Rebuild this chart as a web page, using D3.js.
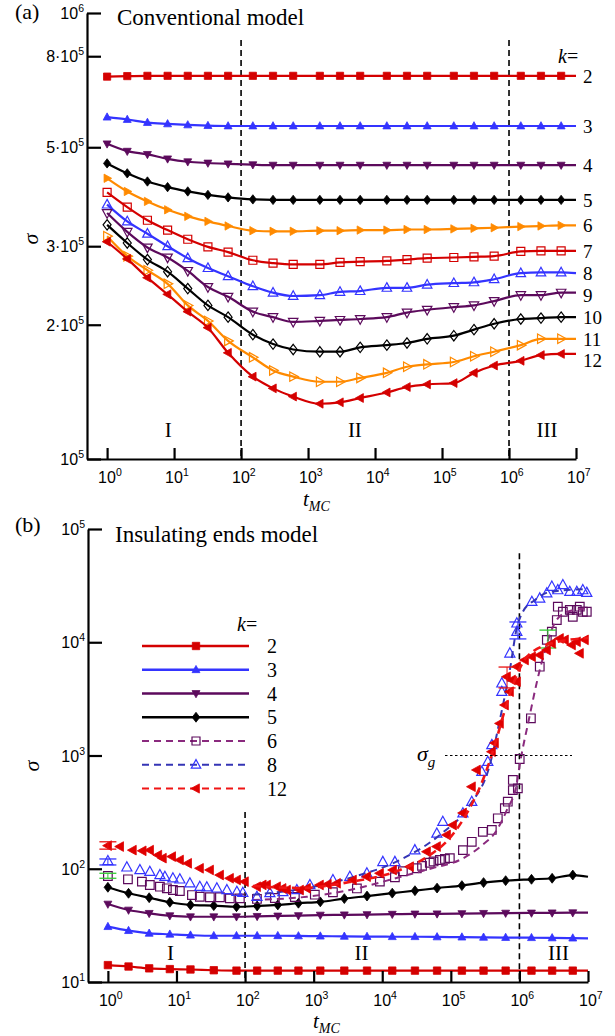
<!DOCTYPE html>
<html><head><meta charset="utf-8">
<script src="https://cdn.jsdelivr.net/npm/d3@7"></script>
<style>
html,body{margin:0;padding:0;background:#fff;}
svg{display:block;}
</style></head><body>
<svg id="chart" width="615" height="1036"></svg>
<script>
// ---------- data: panel (a), conventional model ----------
const tTop = [1,2,4,8,16,32,64,150,300,600,1.5e3,3e3,6e3,1.5e4,3e4,6e4,1.5e5,3e5,6e5,1.5e6,3e6,6e6,1e7];
const topUnit = 1e5; // sigma values below are in units of 1e5
const top2  = [7.20,7.22,7.23,7.23,7.23,7.23,7.23,7.23,7.23,7.23,7.23,7.23,7.23,7.23,7.23,7.23,7.23,7.23,7.23,7.23,7.23,7.23,7.23];
const top3  = [5.84,5.77,5.68,5.64,5.61,5.59,5.58,5.58,5.58,5.58,5.58,5.58,5.58,5.58,5.58,5.58,5.58,5.58,5.58,5.58,5.58,5.58,5.58];
const top4  = [5.09,4.90,4.82,4.71,4.64,4.61,4.59,4.57,4.56,4.56,4.56,4.56,4.56,4.56,4.56,4.56,4.56,4.56,4.56,4.56,4.56,4.56,4.56];
const top5  = [4.60,4.37,4.19,4.07,3.98,3.91,3.86,3.82,3.81,3.81,3.81,3.81,3.81,3.81,3.81,3.81,3.81,3.81,3.81,3.81,3.81,3.81,3.81];
const top6  = [4.26,3.98,3.78,3.62,3.50,3.41,3.33,3.25,3.24,3.24,3.25,3.25,3.26,3.26,3.27,3.27,3.28,3.29,3.30,3.32,3.33,3.34,3.34];
const top7  = [3.96,3.67,3.43,3.26,3.11,2.99,2.91,2.79,2.75,2.73,2.73,2.76,2.77,2.78,2.80,2.82,2.83,2.84,2.85,2.92,2.93,2.93,2.93];
const top8  = [3.72,3.41,3.20,3.00,2.82,2.68,2.57,2.44,2.36,2.32,2.33,2.37,2.38,2.42,2.42,2.46,2.48,2.49,2.53,2.61,2.62,2.62,2.61];
const top9  = [3.56,3.23,2.98,2.83,2.64,2.43,2.31,2.14,2.08,2.03,2.04,2.05,2.06,2.08,2.13,2.16,2.19,2.21,2.26,2.33,2.33,2.36,2.36];
const top10 = [3.35,3.05,2.80,2.63,2.41,2.21,2.08,1.90,1.81,1.76,1.74,1.74,1.78,1.80,1.82,1.86,1.89,1.95,2.01,2.06,2.07,2.08,2.08];
const top11 = [3.16,2.85,2.65,2.47,2.21,2.04,1.84,1.69,1.58,1.53,1.49,1.49,1.52,1.56,1.61,1.63,1.65,1.70,1.74,1.80,1.86,1.86,1.86];
const top12 = [3.07,2.81,2.55,2.34,2.14,1.97,1.73,1.53,1.44,1.38,1.33,1.34,1.37,1.41,1.45,1.47,1.48,1.56,1.62,1.66,1.71,1.72,1.72];

// ---------- data: panel (b), insulating ends model ----------
const tBottom = [1,2,4,8,16,35,75,150,300,600,1250,2800,6000,1.4e4,3e4,6.3e4,1.45e5,3e5,6.3e5,1.5e6,3e6,6e6,1e7];
const bot2 = [14.1,13.7,13.2,13.0,12.9,12.7,12.6,12.6,12.6,12.6,12.6,12.6,12.6,12.6,12.6,12.6,12.6,12.6,12.6,12.6,12.6,12.6,12.6];
const bot3 = [30.8,28.4,26.9,26.4,25.9,25.6,25.6,25.6,25.6,25.5,25.4,25.3,25.2,25.1,25.1,25.0,24.9,24.8,24.7,24.6,24.5,24.4,24.3];
const bot4 = [48.8,43.2,40.4,38.5,37.7,37.7,37.7,38.0,38.3,38.6,39.0,39.2,39.4,39.7,39.9,40.0,40.2,40.4,40.6,40.7,40.8,40.9,40.9];
const bot5 = [68.6,60.7,55.5,50.6,47.9,47.2,46.2,46.9,47.9,49.6,51.0,54.5,57.4,60.9,64.0,67.5,71.0,75.5,78.5,80.7,82.4,88.0,85.0];

// raw points [t, sigma]
const scat6 = [[1,86.3],[1.96,80.7],[3.13,76.9],[4.09,71.9],[5.73,69.4],[7.24,67.2],[8.87,64.9],[11.2,63.6],[16.8,58.6],[21.9,56.6],[30.7,56],[43,56],[60,54.8],[84,54.8],
  [149,54.1],[272,55.2],[532,56.3],[1040,59],[1910,62],[4270,67],[9230,77],[1.53e4,84.1],[2e4,95],[3.19e4,101],[3.8e4,106],[4.94e4,113],[5.6e4,116],[6.92e4,119.5],[8.2e4,122],[9.67e4,124],[1.5e5,146],[2.02e5,173],[2.93e5,212],[3.96e5,220],[4.84e5,279],[6.13e5,342],[6.77e5,391],[8.02e5,495],[9.49e5,513],[8.02e5,608],[1.01e6,931],
  [1.47e6,2130],[1.98e6,6080],[2.51e6,1.05e4],[2.97e6,1.24e4],[3.51e6,1.57e4],[3.63e6,2.06e4],[4.3e6,1.86e4],[5.43e6,1.93e4],[6e6,1.68e4],[6.87e6,1.93e4],[7.59e6,2.06e4],[8.4e6,1.86e4],[9.6e6,1.86e4]];
const scat8 = [[1,117],[1.89,103],[2.93,97.5],[4.09,94.2],[5.73,88],[6.78,85.1],[8.87,82.4],[11.2,80.7],[15.7,74.4],[21.9,69.4],[27.7,68.6],[38.8,67.2],[54.3,64.9],[76,62.7],[92.8,61.4],
  [149,56.6],[230,61.1],[356,62.3],[569,64.9],[881,71.9],[1910,79.6],[3370,85.1],[5970,91.2],[1.02e4,115],[1.53e4,115],[2.99e4,146],[6.25e4,205],[7.64e4,260],[1.5e5,309],[2.02e5,391],[2.83e5,720],[3.46e5,881],[3.96e5,1240],[5.54e5,3660],[5.54e5,4340],[7.25e5,7980],[9.17e5,1.24e4],[9.17e5,1.47e4],
  [1.52e6,2.28e4],[1.98e6,2.44e4],[2.51e6,2.71e4],[2.97e6,3.1e4],[3.63e6,2.89e4],[4.3e6,3.2e4],[5.43e6,2.79e4],[6.87e6,2.79e4],[8.4e6,2.89e4],[9.6e6,2.74e4]];
const scat12 = [[1,160],[1.5,157],[2.3,146],[3.2,144],[4.1,146],[5.4,132],[6.3,124],[8.6,128],[11.2,119.5],[14.7,111.7],[21.9,100.9],[30.7,97.5],[43,88],[60,82.4],[76,79.6],[99,76.9],
  [149,69.4],[180,72],[208,71.9],[291,69.4],[350,67],[407,64.9],[630,64.9],[796,67.2],[1230,71.9],[1600,73],[2180,74.4],[3720,79.6],[5970,85.1],[9230,91.2],[1.43e4,97.5],[2.53e4,104.3],[4.47e4,141.5],[6.25e4,157],[8.75e4,199],[1.07e5,243],[1.5e5,311],[2.02e5,530],[2.39e5,745],[3.96e5,1080],[4.38e5,1290],[5.18e5,1920],[6.13e5,2790],[7.25e5,3660],[6.55e5,4960],[7.75e5,4640],[9.17e5,4480],[9.17e5,6090],
  [1.2e6,6970],[1.52e6,7450],[1.98e6,7710],[2.51e6,8540],[2.97e6,9790],[3.88e6,1.08e4],[4.59e6,1.05e4],[5.81e6,9460],[6.87e6,1.01e4],[7.59e6,7980],[8.98e6,1.05e4]];

// fitted curves [t, sigma]
const fit6  = [[130,53],[795,56.6],[3380,65],[1.81e4,84.5],[5.47e4,101.5],[1.35e5,119.5],[2.65e5,155.6],[4.69e5,220],[6.55e5,330],[9.17e5,571],[1.01e6,824],[1.37e6,2060],[1.98e6,5690],[3.28e6,1.48e4],[4.91e6,1.85e4],[1e7,2.0e4]];
const fit8  = [[130,59],[630,66],[3380,83],[1.81e4,119.5],[6.92e4,199],[1.89e5,365],[3.7e5,824],[5.18e5,2060],[7.25e5,5690],[9.17e5,1.34e4],[1.12e6,1.85e4],[1.68e6,2.36e4],[2.77e6,2.78e4],[1e7,2.95e4]];
const fit12 = [[130,70.5],[630,67.6],[3380,76.4],[1.81e4,97.5],[4.94e4,132],[9.67e4,187],[1.89e5,344],[3.13e5,673],[4.38e5,1240],[6.13e5,2520],[8.57e5,4640],[1.28e6,7410],[3.07e6,9840],[1e7,1.09e4]];

// error bars [t, low, high]
const err6  = [[1,82.4,91.2],[2.6e6,8900,1.28e4]];
const err8  = [[1,108,122],[9.5e5,1.07e4,1.51e4]];
const err12 = [[1,149,173],[6.6e5,3950,6040]];

// ticks and labels
const xTickVals = [1,10,100,1e3,1e4,1e5,1e6,1e7];
const topYTicks = [1e5,2e5,3e5,5e5,8e5,1e6];
const topYMant  = ["","2·","3·","5·","8·",""];
const topYExp   = [5,5,5,5,5,6];
const botYTicks = [10,100,1e3,1e4,1e5];
const regionNames = ["I","II","III"];
const regionT = [8.2,5e3,3.7e6];
const regionBounds = [100,1e6];
const sigmaG = 1e3;

// ---------- layout ----------
const RED="#d40000", BLUE="#3434ff", PURPLE="#5c0a5c", ORANGE="#ff8a00", BLACK="#000";
const SERIF='"Liberation Serif","Times New Roman",serif';
const SANS='"Liberation Sans",Arial,sans-serif';
const A = {left:87, right:576, top:13, bottom:459};
const B = {left:88, right:588, top:529, bottom:982};

const svg = d3.select("#chart");
const xA = d3.scaleLog().domain([Math.pow(10,-0.3),1e7]).range([A.left,A.right]);
const yA = d3.scaleLog().domain([1e5,1e6]).range([A.bottom,A.top]);
const xB = d3.scaleLog().domain([Math.pow(10,-0.29),1e7]).range([B.left,B.right]);
const yB = d3.scaleLog().domain([10,1e5]).range([B.bottom,B.top]);

function shapePath(shape, r){
  switch(shape){
    case "square":  return `M${-r},${-r}H${r}V${r}H${-r}Z`;
    case "up":      return `M0,${-1.2*r}L${1.1*r},${0.8*r}L${-1.1*r},${0.8*r}Z`;
    case "down":    return `M0,${1.2*r}L${1.1*r},${-0.8*r}L${-1.1*r},${-0.8*r}Z`;
    case "right":   return `M${1.2*r},0L${-0.8*r},${-1.1*r}L${-0.8*r},${1.1*r}Z`;
    case "left":    return `M${-1.2*r},0L${0.8*r},${-1.1*r}L${0.8*r},${1.1*r}Z`;
    case "diamond": return `M0,${-1.3*r}L${r},0L0,${1.3*r}L${-r},0Z`;
  }
}

function markers(g, x, y, pts, cfg, r){
  g.selectAll(null).data(pts).enter().append("path")
    .attr("transform", d=>`translate(${x(d[0])},${y(d[1])})`)
    .attr("d", shapePath(cfg.shape, r))
    .attr("fill", cfg.filled ? cfg.color : "none")
    .attr("stroke", cfg.mcolor || cfg.color)
    .attr("stroke-width", cfg.filled ? 0.8 : 1.2);
}

function curve(g, x, y, pts, color, width, dash){
  const line = d3.line().x(d=>x(d[0])).y(d=>y(d[1])).curve(d3.curveMonotoneX);
  const p = g.append("path").attr("d", line(pts)).attr("fill","none")
    .attr("stroke", color).attr("stroke-width", width).attr("stroke-linejoin","round");
  if (dash) p.attr("stroke-dasharray", dash);
}

function powerLabel(g, px, py, mant, exp, anchor){
  const t = g.append("text").attr("x",px).attr("y",py).attr("text-anchor",anchor)
    .attr("font-family",SANS).attr("font-size",16).attr("fill","#000");
  t.append("tspan").text(mant+"10");
  t.append("tspan").attr("dy",-7).attr("font-size",10.5).text(exp);
}

function axes(g, x, y, box, yTicks, yMant, yExp){
  const gx = g.append("g").attr("transform",`translate(0,${box.bottom})`)
    .call(d3.axisBottom(x).tickValues(xTickVals).tickSize(-11).tickSizeOuter(0).tickFormat(()=>""));
  const gy = g.append("g").attr("transform",`translate(${box.left},0)`)
    .call(d3.axisLeft(y).tickValues(yTicks).tickSize(-14).tickSizeOuter(0).tickFormat(()=>""));
  [gx,gy].forEach(a=>{
    a.select(".domain").attr("stroke","#000").attr("stroke-width",2.2);
    a.selectAll(".tick line").attr("stroke","#000").attr("stroke-width",2.2);
  });
  xTickVals.forEach(t=>powerLabel(g, x(t)-9, box.bottom+24, "", Math.round(Math.log10(t)), "start"));
  yTicks.forEach((v,i)=>powerLabel(g, box.left-3, y(v)+6, yMant[i], yExp[i], "end"));
}

function axisTitles(g, sigmaX, sigmaY, tX, tY){
  g.append("text").attr("transform",`translate(${sigmaX},${sigmaY}) rotate(-90)`)
    .attr("dy","0.25em").attr("text-anchor","middle")
    .attr("font-family",SERIF).attr("font-style","italic").attr("font-size",22).text("σ");
  const t = g.append("text").attr("x",tX).attr("y",tY)
    .attr("font-family",SERIF).attr("font-style","italic").attr("font-size",21);
  t.append("tspan").text("t");
  t.append("tspan").attr("dy",5).attr("font-size",14).text("MC");
}

function regions(g, x, y, box, yTopA, yTopB){
  regionBounds.forEach((t,i)=>{
    g.append("line").attr("x1",x(t)).attr("x2",x(t))
      .attr("y1",y(i===0?yTopA:yTopB)).attr("y2",box.bottom)
      .attr("stroke","#000").attr("stroke-width",1.6).attr("stroke-dasharray","6,4");
  });
  regionNames.forEach((n,i)=>{
    g.append("text").attr("x",x(regionT[i])).attr("y",box.bottom-22).attr("text-anchor","middle")
      .attr("font-family",SERIF).attr("font-size",21).text(n);
  });
}

// ---------- panel (a) ----------
const gA = svg.append("g");
const seriesTop = [
  {k:2,  v:top2,  color:RED,    shape:"square",  filled:true,  r:3.6},
  {k:3,  v:top3,  color:BLUE,   shape:"up",      filled:true,  r:3.6},
  {k:4,  v:top4,  color:PURPLE, shape:"down",    filled:true,  r:3.6},
  {k:5,  v:top5,  color:BLACK,  shape:"diamond", filled:true,  r:3.6},
  {k:6,  v:top6,  color:ORANGE, shape:"right",   filled:true,  r:3.8},
  {k:7,  v:top7,  color:RED,    shape:"square",  filled:false, r:4.0},
  {k:8,  v:top8,  color:BLUE,   shape:"up",      filled:false, r:4.3},
  {k:9,  v:top9,  color:PURPLE, shape:"down",    filled:false, r:4.3},
  {k:10, v:top10, color:BLACK,  shape:"diamond", filled:false, r:4.0},
  {k:11, v:top11, color:ORANGE, shape:"right",   filled:false, r:4.3},
  {k:12, v:top12, color:RED,    shape:"left",    filled:true,  r:4.0}
];
regions(gA, xA, yA, A, 8.7e5, 8.7e5);
let prevLabelY = -Infinity;
seriesTop.forEach(s=>{
  const pts = tTop.map((t,i)=>[t, s.v[i]*topUnit]);
  curve(gA, xA, yA, pts, s.color, 2.2);
  markers(gA, xA, yA, pts.slice(0,-1), s, s.r);
  // end label, nudged down so neighbouring labels keep clear of each other
  const ly = Math.max(yA(pts[pts.length-1][1])+7, prevLabelY+21.5);
  prevLabelY = ly;
  gA.append("text").attr("x",583).attr("y",ly)
    .attr("font-family",SERIF).attr("font-size",19).text(s.k);
});
axes(gA, xA, yA, A, topYTicks, topYMant, topYExp);
axisTitles(gA, 32, 239, 303, 506);
{
  const k = gA.append("text").attr("x",558).attr("y",63).attr("font-family",SERIF).attr("font-size",20);
  k.append("tspan").attr("font-style","italic").text("k");
  k.append("tspan").text("=");
}
gA.append("text").attr("x",15).attr("y",19).attr("font-family",SERIF).attr("font-size",22).text("(a)");
gA.append("text").attr("x",117).attr("y",25).attr("font-family",SERIF).attr("font-size",23).text("Conventional model");

// ---------- panel (b) ----------
const gB = svg.append("g");
const seriesBot = [
  {k:2, v:bot2, color:RED,    shape:"square",  filled:true, r:3.7},
  {k:3, v:bot3, color:BLUE,   shape:"up",      filled:true, r:3.6},
  {k:4, v:bot4, color:PURPLE, shape:"down",    filled:true, r:3.6},
  {k:5, v:bot5, color:BLACK,  shape:"diamond", filled:true, r:3.8}
];
const scatterBot = [
  {k:6,  pts:scat6,  fit:fit6,  err:err6,  color:"#8a2a7e", mcolor:PURPLE, ecolor:"#33cc33", shape:"square", filled:false, r:4.3, dash:"7,5", w:2},
  {k:8,  pts:scat8,  fit:fit8,  err:err8,  color:"#3535b5", mcolor:BLUE,   ecolor:BLUE,      shape:"up",     filled:false, r:4.6, dash:"7,5", w:2},
  {k:12, pts:scat12, fit:fit12, err:err12, color:"#f01515", mcolor:"#e00000", ecolor:"#e81010", shape:"left", filled:true, r:4.4, dash:"8,5", w:2.6}
];
regions(gB, xB, yB, B, 317, 6.1e4);
seriesBot.forEach(s=>{
  const pts = tBottom.map((t,i)=>[t, s.v[i]]);
  curve(gB, xB, yB, pts, s.color, 2.2);
  markers(gB, xB, yB, pts.slice(0,-1), s, s.r);
});
scatterBot.forEach(s=>{
  markers(gB, xB, yB, s.pts, {shape:s.shape, filled:s.filled, color:s.mcolor}, s.r);
  curve(gB, xB, yB, s.fit, s.color, s.w, s.dash);
  s.err.forEach(e=>{
    const cx = xB(e[0]);
    [e[1],e[2]].forEach(v=>gB.append("line").attr("x1",cx-8.5).attr("x2",cx+8.5)
      .attr("y1",yB(v)).attr("y2",yB(v)).attr("stroke",s.ecolor).attr("stroke-width",1.3));
    gB.append("line").attr("x1",cx).attr("x2",cx).attr("y1",yB(e[1])).attr("y2",yB(e[2]))
      .attr("stroke",s.ecolor).attr("stroke-width",1);
  });
});
// sigma_g reference level
gB.append("line").attr("x1",445).attr("x2",572).attr("y1",yB(sigmaG)).attr("y2",yB(sigmaG))
  .attr("stroke","#000").attr("stroke-width",1).attr("stroke-dasharray","2.5,2.5");
{
  const sg = gB.append("text").attr("x",417).attr("y",yB(sigmaG)+5)
    .attr("font-family",SERIF).attr("font-style","italic").attr("font-size",22);
  sg.append("tspan").text("σ");
  sg.append("tspan").attr("dy",6).attr("font-size",15).text("g");
}
axes(gB, xB, yB, B, botYTicks, ["","","","",""], [1,2,3,4,5]);
axisTitles(gB, 33, 766, 313, 1028);
gB.append("text").attr("x",15).attr("y",532).attr("font-family",SERIF).attr("font-size",22).text("(b)");
gB.append("text").attr("x",115).attr("y",542).attr("font-family",SERIF).attr("font-size",23).text("Insulating ends model");

// legend
const legendRows = [
  {k:2,  color:RED,       mcolor:RED,    shape:"square",  filled:true,  r:3.7},
  {k:3,  color:BLUE,      mcolor:BLUE,   shape:"up",      filled:true,  r:3.6},
  {k:4,  color:PURPLE,    mcolor:PURPLE, shape:"down",    filled:true,  r:3.6},
  {k:5,  color:BLACK,     mcolor:BLACK,  shape:"diamond", filled:true,  r:3.8},
  {k:6,  color:"#8a2a7e", mcolor:PURPLE, shape:"square",  filled:false, r:4.0, dash:"7,5"},
  {k:8,  color:"#3535b5", mcolor:BLUE,   shape:"up",      filled:false, r:4.3, dash:"7,5"},
  {k:12, color:"#f01515", mcolor:"#e00000", shape:"left", filled:true,  r:4.2, dash:"7,5"}
];
{
  const k = gB.append("text").attr("x",237).attr("y",631).attr("font-family",SERIF).attr("font-size",20);
  k.append("tspan").attr("font-style","italic").text("k");
  k.append("tspan").text("=");
}
legendRows.forEach((row,i)=>{
  const ly = 646 + i*23.75;
  const ln = gB.append("line").attr("x1",142).attr("x2",249).attr("y1",ly).attr("y2",ly)
    .attr("stroke",row.color).attr("stroke-width",2.4);
  if (row.dash) ln.attr("stroke-dasharray",row.dash).attr("stroke-width",2);
  gB.append("path").attr("transform",`translate(196,${ly})`).attr("d",shapePath(row.shape,row.r))
    .attr("fill",row.filled?row.mcolor:"none").attr("stroke",row.mcolor).attr("stroke-width",row.filled?0.8:1.2);
  gB.append("text").attr("x",267).attr("y",ly+7).attr("font-family",SERIF).attr("font-size",20).text(row.k);
});
</script></body></html>
